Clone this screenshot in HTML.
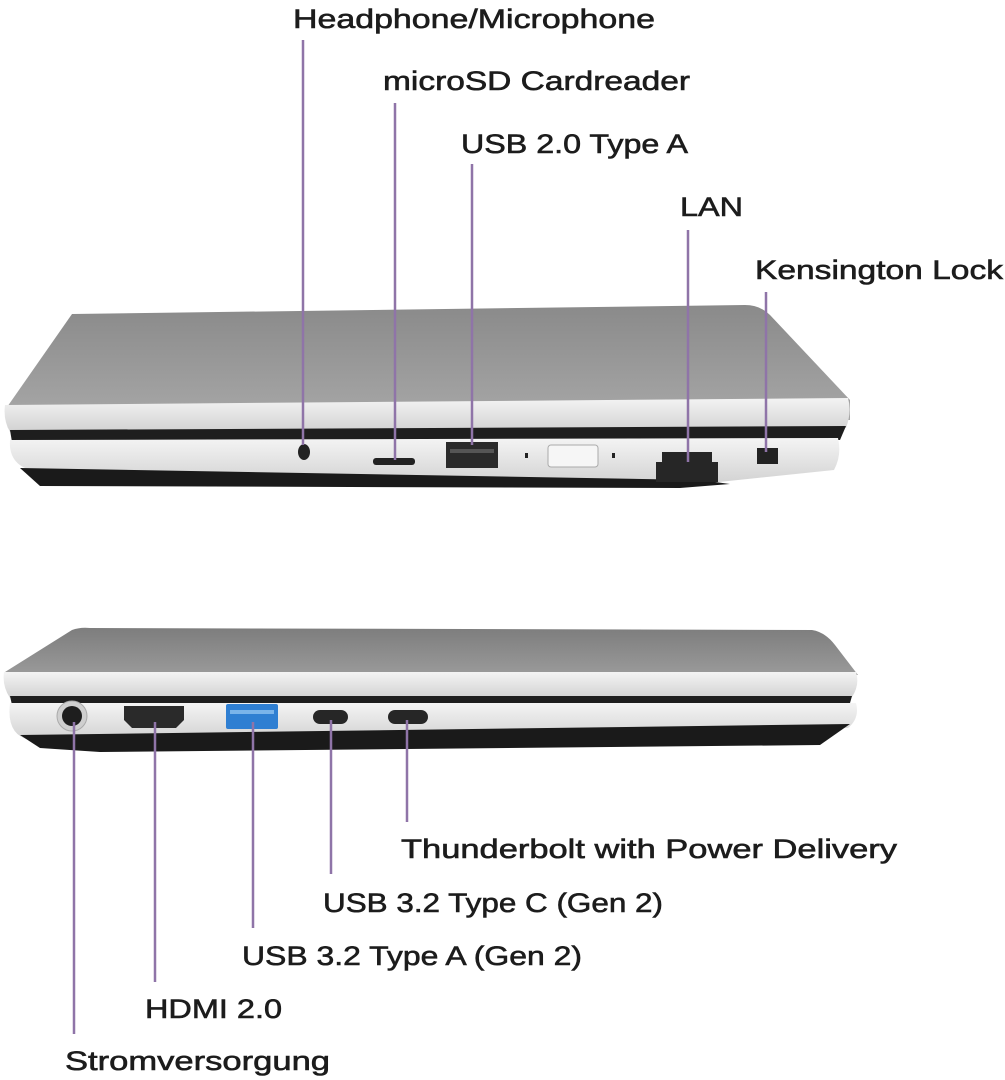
<!DOCTYPE html>
<html><head><meta charset="utf-8"><style>
html,body{margin:0;padding:0;background:#fff;}
svg{display:block;}
text{font-family:"Liberation Sans",sans-serif;font-size:27px;fill:#1c1c1c;stroke:#1c1c1c;stroke-width:0.6;font-weight:normal;}
</style></head><body>
<svg width="1005" height="1080" viewBox="0 0 1005 1080" xmlns="http://www.w3.org/2000/svg">
<defs>
<linearGradient id="lid" x1="0" y1="0" x2="0" y2="1">
<stop offset="0" stop-color="#8a8a8a"/><stop offset="1" stop-color="#a9a9a9"/></linearGradient>
<linearGradient id="lid2" x1="0" y1="0" x2="0" y2="1">
<stop offset="0" stop-color="#7d7d7d"/><stop offset="1" stop-color="#9c9c9c"/></linearGradient>
<linearGradient id="silver" x1="0" y1="0" x2="0" y2="1">
<stop offset="0" stop-color="#f4f4f4"/><stop offset="1" stop-color="#d2d2d2"/></linearGradient>
</defs>

<!-- TOP LAPTOP -->
<path d="M72,314 L745,305 Q760,305 770,315 L850,400 L850,420 L8,428 L5,410 Z" fill="url(#lid)"/>
<path d="M5,405 L848,398 Q852,412 846,428 L10,432 Q3,420 5,405 Z" fill="url(#silver)"/>
<path d="M10,430 L846,426 L840,440 L12,442 Z" fill="#1e1e1e"/>
<path d="M10,440 L838,438 Q842,455 834,470 L700,484 L40,472 Q8,468 10,440 Z" fill="url(#silver)"/>
<path d="M20,468 L700,480 L730,484 L680,488 L40,486 Z" fill="#1a1a1a"/>
<ellipse cx="304" cy="452" rx="6" ry="8" fill="#222"/>
<rect x="373" y="458" width="42" height="7" rx="3" fill="#222"/>
<rect x="446" y="442" width="52" height="26" fill="#2a2a2a"/>
<rect x="450" y="449" width="44" height="4" fill="#555"/>
<rect x="548" y="445" width="50" height="22" rx="3" fill="#f6f6f6" stroke="#aaa"/>
<rect x="525" y="453" width="3" height="5" fill="#222"/>
<rect x="612" y="453" width="3" height="5" fill="#222"/>
<path d="M662,452 L712,452 L712,462 L718,462 L718,482 L656,482 L656,462 L662,462 Z" fill="#262626"/>
<rect x="757" y="448" width="21" height="16" fill="#222"/>

<!-- BOTTOM LAPTOP -->
<path d="M72,630 Q80,627 90,628 L812,630 Q825,632 835,645 L858,675 L8,678 L5,672 Z" fill="url(#lid2)"/>
<path d="M4,672 L856,672 Q860,685 852,697 L10,698 Q2,686 4,672 Z" fill="url(#silver)"/>
<path d="M10,696 L852,696 L850,703 L12,705 Z" fill="#1e1e1e"/>
<path d="M10,703 L856,703 Q860,718 848,728 L30,740 Q6,735 10,703 Z" fill="url(#silver)"/>
<path d="M20,735 L850,724 L820,745 L100,752 L40,748 Z" fill="#1a1a1a"/>
<circle cx="72" cy="716" r="15" fill="#cfcfcf" stroke="#aaa"/>
<circle cx="72" cy="716" r="10" fill="#1e1e1e"/>
<path d="M124,706 L184,706 L184,720 L176,728 L132,728 L124,720 Z" fill="#2a2a2a"/>
<rect x="226" y="704" width="52" height="25" rx="2" fill="#2f7fd2"/>
<rect x="230" y="710" width="44" height="4" fill="#7ab4ea"/>
<rect x="313" y="710" width="35" height="14" rx="7" fill="#262626"/>
<rect x="388" y="710" width="40" height="14" rx="7" fill="#262626"/>

<g stroke="#8f74a8" stroke-width="2.5">
<line x1="303" y1="40" x2="303" y2="445"/>
<line x1="395" y1="103" x2="395" y2="460"/>
<line x1="472" y1="164" x2="472" y2="445"/>
<line x1="688" y1="230" x2="688" y2="462"/>
<line x1="766" y1="292" x2="766" y2="452"/>
<line x1="74" y1="722" x2="74" y2="1034"/>
<line x1="155" y1="722" x2="155" y2="982"/>
<line x1="253" y1="722" x2="253" y2="928"/>
<line x1="331" y1="720" x2="331" y2="874"/>
<line x1="407" y1="720" x2="407" y2="822"/>
</g>

<text x="293" y="28" textLength="362" lengthAdjust="spacingAndGlyphs">Headphone/Microphone</text>
<text x="383" y="90" textLength="307" lengthAdjust="spacingAndGlyphs">microSD Cardreader</text>
<text x="461" y="153" textLength="227" lengthAdjust="spacingAndGlyphs">USB 2.0 Type A</text>
<text x="680" y="216" textLength="63" lengthAdjust="spacingAndGlyphs">LAN</text>
<text x="755" y="279" textLength="248" lengthAdjust="spacingAndGlyphs">Kensington Lock</text>
<text x="401" y="858" textLength="496" lengthAdjust="spacingAndGlyphs">Thunderbolt with Power Delivery</text>
<text x="323" y="912" textLength="340" lengthAdjust="spacingAndGlyphs">USB 3.2 Type C (Gen 2)</text>
<text x="242" y="965" textLength="340" lengthAdjust="spacingAndGlyphs">USB 3.2 Type A (Gen 2)</text>
<text x="145" y="1018" textLength="137" lengthAdjust="spacingAndGlyphs">HDMI 2.0</text>
<text x="65" y="1070" textLength="265" lengthAdjust="spacingAndGlyphs">Stromversorgung</text>
</svg>
</body></html>
